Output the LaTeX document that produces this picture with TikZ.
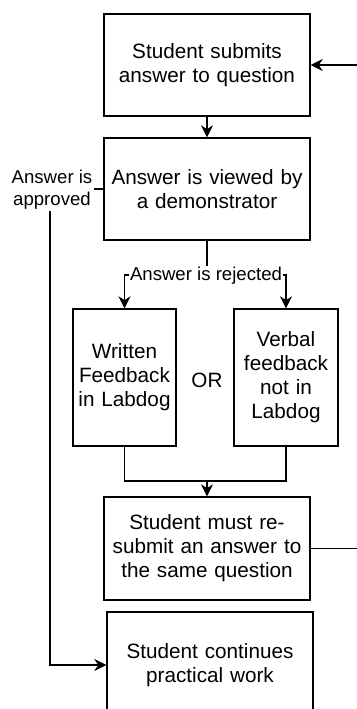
\documentclass[tikz,border=0pt]{standalone}
\usepackage{fontspec}
\setmainfont{Liberation Sans}
\usetikzlibrary{arrows.meta}

\begin{document}
\begin{tikzpicture}[x=1pt,y=-1pt,
    stepbox/.style={draw, line width=1.4pt, align=center, inner sep=0,
      text width=#1, font=\fontsize{20.7}{24}\selectfont},
    stepbox/.default=200pt,
    flow/.style={line width=1.4pt, -{Stealth[length=12pt,width=12pt]}},
    edgelabel/.style={fill=white, inner sep=1pt, align=center,
      font=\fontsize{18.6}{22}\selectfont}]
    \useasboundingbox (0,0) rectangle (356,709);

    \node[stepbox, minimum width=206pt, minimum height=102pt] (submit) at (207,65) {Student submits\\answer to question};
    \node[stepbox, minimum width=206pt, minimum height=102pt] (view) at (207,189) {Answer is viewed by\\a demonstrator};
    \node[stepbox=100pt, minimum width=103pt, minimum height=137pt] (written) at (124.5,377.5) {Written\\Feedback\\in Labdog};
    \node[stepbox=100pt, minimum width=104pt, minimum height=137pt] (verbal) at (286,377.5) {Verbal\\feedback\\not in\\Labdog};
    \node[font=\fontsize{20.7}{24}\selectfont] (or) at (207,380) {OR};
    \node[stepbox, minimum width=206pt, minimum height=103pt] (resub) at (207,548.5) {Student must re-\\submit an answer to\\the same question};
    \node[stepbox, minimum width=206pt, minimum height=106pt] (cont) at (210,665) {Student continues\\practical work};

    \draw[flow] (submit) -- (view);

    % rejected: split into the two kinds of feedback
    \coordinate (fork) at (207,275);
    \draw[flow] (view.south) -- (fork) -| (written.north);
    \draw[flow] (fork) -| (verbal.north);
    \node[edgelabel] (rejected) at (206,276) {Answer is rejected};

    % both kinds of feedback lead to a new attempt
    \coordinate (join) at (207,481);
    \draw[line width=1.4pt] (written.south) |- (join) -| (verbal.south);
    \draw[flow] (join) -- (resub.north);
    \draw[flow] (resub.east) -- ++(60,0) |- (submit.east);

    % approved: straight on to the practical
    \node[edgelabel] (approved) at (52,190) {Answer is\\approved};
    \draw[line width=1.4pt] (view.west) -- (approved.east |- view.west);
    \draw[flow] (approved.south -| 50,0) |- (cont.west);
\end{tikzpicture}
\end{document}
